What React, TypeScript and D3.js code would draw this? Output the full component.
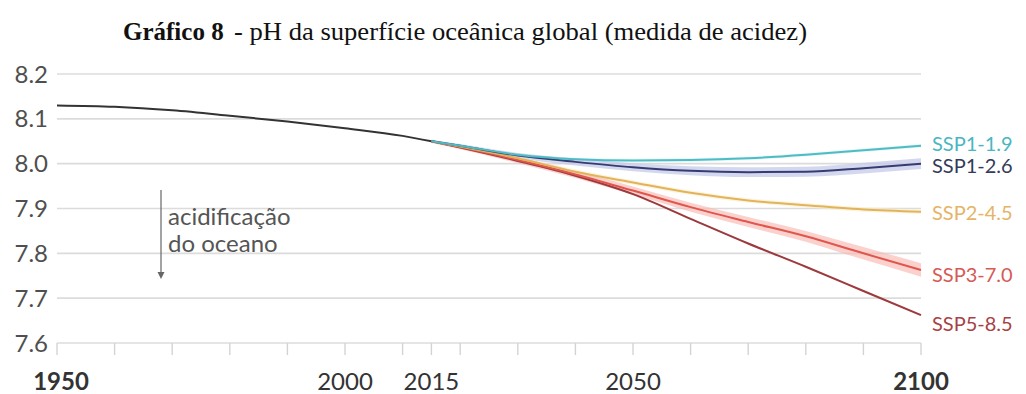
import React from "react";
import * as d3 from "d3";

// Historical surface-ocean pH
const histYears = [1950, 1960, 1970, 1980, 1990, 2000, 2010, 2015];
const histPH = [8.13, 8.127, 8.119, 8.107, 8.094, 8.079, 8.062, 8.05];

// Scenario projections
const scenYears = [2015, 2020, 2030, 2040, 2050, 2060, 2070, 2080, 2090, 2100];
const ssp119 = [8.05, 8.04, 8.02, 8.01, 8.007, 8.008, 8.012, 8.02, 8.03, 8.04];
const ssp126 = [8.05, 8.04, 8.018, 8.004, 7.992, 7.984, 7.981, 7.982, 7.99, 8.0];
const ssp245 = [8.05, 8.038, 8.012, 7.982, 7.958, 7.935, 7.918, 7.907, 7.898, 7.893];
const ssp370 = [8.05, 8.037, 8.008, 7.976, 7.94, 7.903, 7.87, 7.838, 7.8, 7.763];
const ssp585 = [8.05, 8.036, 8.006, 7.973, 7.932, 7.877, 7.822, 7.77, 7.716, 7.662];

// Half-width of the uncertainty band around each projection
const spread119 = [0.002, 0.002, 0.003, 0.003, 0.004, 0.004, 0.004, 0.004, 0.004, 0.004];
const spread126 = [0.003, 0.004, 0.006, 0.008, 0.009, 0.01, 0.011, 0.011, 0.012, 0.012];
const spread245 = [0.002, 0.003, 0.004, 0.005, 0.005, 0.005, 0.005, 0.005, 0.005, 0.005];
const spread370 = [0.004, 0.005, 0.007, 0.008, 0.009, 0.01, 0.011, 0.012, 0.014, 0.015];
const spread585 = [0.001, 0.001, 0.002, 0.002, 0.002, 0.002, 0.002, 0.002, 0.002, 0.002];

const scenarioNames = ["SSP1-1.9", "SSP1-2.6", "SSP2-4.5", "SSP3-7.0", "SSP5-8.5"];

const yTicks = [8.2, 8.1, 8.0, 7.9, 7.8, 7.7, 7.6];
const xTickYears = [1950, 1960, 1970, 1980, 1990, 2000, 2010, 2015, 2020, 2030, 2040, 2050, 2060, 2070, 2080, 2090, 2100];
const xLabelYears = [1950, 2000, 2015, 2050, 2100];
const boldYears = [1950, 2100];

const W = 1026;
const H = 394;

const x = d3.scaleLinear().domain([1950, 2100]).range([57, 921]);
const y = d3.scaleLinear().domain([7.6, 8.2]).range([343, 74]);

const lineGen = d3
  .line<[number, number]>()
  .x((d) => x(d[0]))
  .y((d) => y(d[1]))
  .curve(d3.curveMonotoneX);

const areaGen = d3
  .area<[number, number, number]>()
  .x((d) => x(d[0]))
  .y0((d) => y(d[1] - d[2]))
  .y1((d) => y(d[1] + d[2]))
  .curve(d3.curveMonotoneX);

const series = [
  { name: scenarioNames[0], values: ssp119, spread: spread119, line: "#4dbcc4", band: "#d6f1f3", bandOpacity: 0.6, text: "#4ab6c2", dy: -2 },
  { name: scenarioNames[1], values: ssp126, spread: spread126, line: "#363c72", band: "#c4cbea", bandOpacity: 0.75, text: "#343a5a", dy: 2 },
  { name: scenarioNames[2], values: ssp245, spread: spread245, line: "#e2b45a", band: "#faeccc", bandOpacity: 0.6, text: "#e5b465", dy: 1 },
  { name: scenarioNames[3], values: ssp370, spread: spread370, line: "#e0564c", band: "#f7b9b2", bandOpacity: 0.65, text: "#d65a55", dy: 5 },
  { name: scenarioNames[4], values: ssp585, spread: spread585, line: "#9c3a3e", band: "#e6b4b4", bandOpacity: 0.4, text: "#a84145", dy: 9 },
];

export default function App() {
  const sans = "Lato, 'Open Sans', sans-serif";
  const serif = "'Liberation Serif', 'Times New Roman', serif";
  const hist = histYears.map((yr, i) => [yr, histPH[i]] as [number, number]);
  return (
    <svg
      width={W}
      height={H}
      viewBox={`0 0 ${W} ${H}`}
      style={{ position: "absolute", left: 0, top: 0, background: "#fff" }}
    >
      <rect width={W} height={H} fill="#fff" />

      {/* title */}
      <text x={123} y={40} fontFamily={serif} fontSize={25} fontWeight="bold" fill="#111">
        Gráfico 8
      </text>
      <text x={234} y={40} fontFamily={serif} fontSize={25} fill="#111" textLength={573} lengthAdjust="spacingAndGlyphs">
        - pH da superfície oceânica global (medida de acidez)
      </text>

      {/* horizontal grid */}
      {yTicks.map((t) => (
        <line key={t} x1={x(1950)} x2={x(2100)} y1={y(t)} y2={y(t)} stroke="#dcdcdc" strokeWidth={1.6} />
      ))}

      {/* y labels */}
      {yTicks.map((t) => (
        <text key={t} x={48} y={y(t)} dy="0.36em" textAnchor="end" fontFamily={sans} fontSize={24} fill="#4f4f4f">
          {t.toFixed(1)}
        </text>
      ))}

      {/* x ticks */}
      {xTickYears.map((yr) => (
        <line key={yr} x1={x(yr)} x2={x(yr)} y1={y(7.6)} y2={y(7.6) + 12} stroke="#d4d4d4" strokeWidth={1.4} />
      ))}

      {/* x labels */}
      {xLabelYears.map((yr) => (
        <text
          key={yr}
          x={x(yr) + (yr === 1950 ? 4 : 0)}
          y={390}
          textAnchor="middle"
          fontFamily={sans}
          fontSize={24}
          fontWeight={boldYears.includes(yr) ? 700 : 400}
          fill="#333"
        >
          {yr}
        </text>
      ))}

      {/* acidification annotation */}
      <line x1={161} x2={161} y1={190} y2={276} stroke="#666" strokeWidth={1.2} />
      <path d="M157.5,272 L161,279 L164.5,272 Z" fill="#666" />
      <text x={168} y={225} fontFamily={sans} fontSize={24} fill="#555">acidificação</text>
      <text x={168} y={252} fontFamily={sans} fontSize={24} fill="#555">do oceano</text>

      {/* uncertainty bands */}
      {series.map((s) => (
        <path
          key={s.name + "band"}
          d={areaGen(scenYears.map((yr, i) => [yr, s.values[i], s.spread[i]] as [number, number, number])) || ""}
          fill={s.band}
          opacity={s.bandOpacity}
        />
      ))}

      {/* historical line */}
      <path d={lineGen(hist) || ""} fill="none" stroke="#333" strokeWidth={2} />

      {/* scenario lines, drawn with the strongest emissions at the back */}
      {[...series].reverse().map((s) => (
        <path
          key={s.name}
          d={lineGen(scenYears.map((yr, i) => [yr, s.values[i]] as [number, number])) || ""}
          fill="none"
          stroke={s.line}
          strokeWidth={2}
        />
      ))}

      {/* end labels */}
      {series.map((s) => (
        <text
          key={s.name + "lbl"}
          x={932}
          y={y(s.values[s.values.length - 1]) + s.dy}
          dy="0.36em"
          fontFamily={sans}
          fontSize={20}
          fill={s.text}
        >
          {s.name}
        </text>
      ))}
    </svg>
  );
}
